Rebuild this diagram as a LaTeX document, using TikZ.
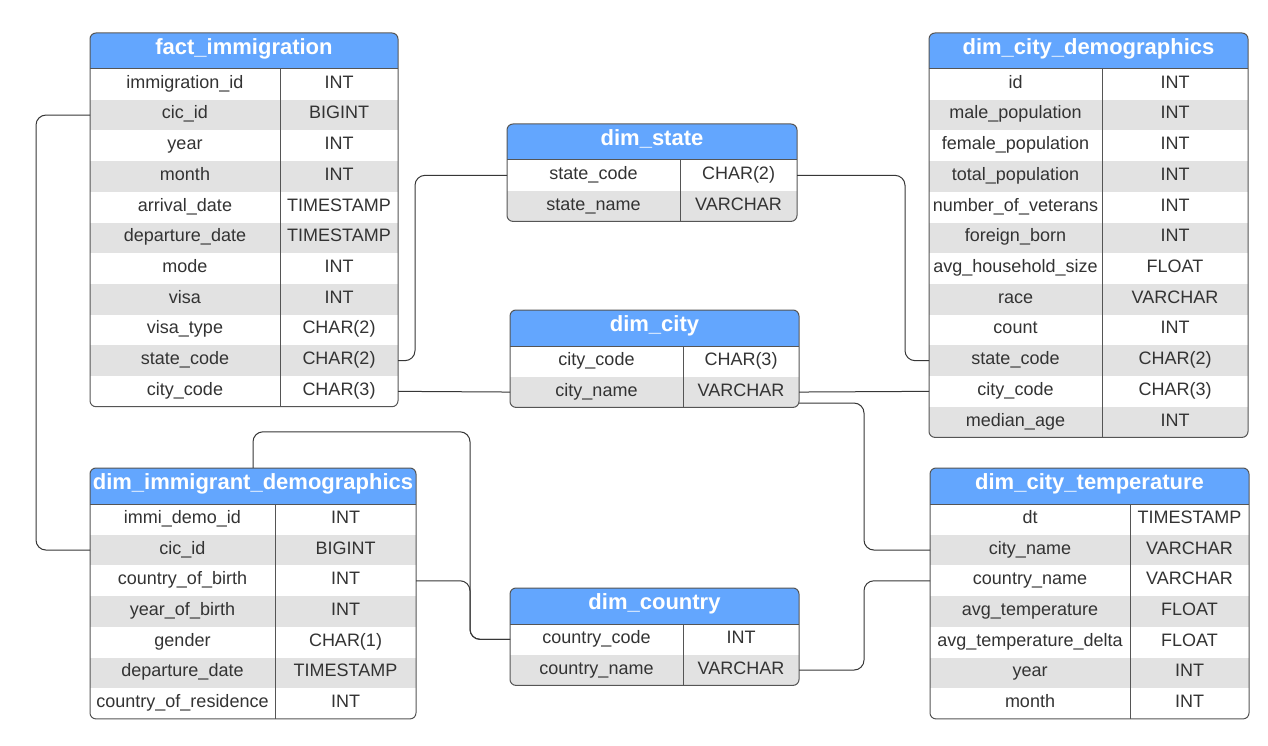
\documentclass[tikz,border=0pt]{standalone}
\usepackage{fontspec}
\setmainfont{Liberation Sans}
\usetikzlibrary{calc}
\definecolor{hdrblue}{RGB}{99,166,254}
\definecolor{rowgray}{RGB}{226,226,226}
\definecolor{edge}{RGB}{85,85,85}
\definecolor{ink}{RGB}{51,51,51}
\definecolor{wire}{RGB}{55,55,55}
\tikzset{
 celltext/.style={text=ink, font=\fontsize{18}{21}\selectfont, inner sep=0pt, text height=12.9pt, text depth=5pt},
 hdrtext/.style={text=white, font=\fontsize{22}{26}\selectfont\bfseries, inner sep=0pt, text height=15.8pt, text depth=8pt},
 rowbox/.style={inner sep=0pt, outer sep=0pt},
 tblborder/.style={draw=edge, line width=1pt},
 conn/.style={draw=wire, line width=1pt, rounded corners=10pt},
}
\newcommand\erTable[8]{%
 \pgfmathsetmacro\tblbot{#5+36+#6*30.7}%
 \begin{scope}
  \clip[rounded corners=6pt] (#2,#5) rectangle (#3,\tblbot);
  \fill[white] (#2,#5) rectangle (#3,\tblbot);
  \fill[hdrblue] (#2,#5) rectangle (#3,#5+36);
  \foreach \fname/\ftype [count=\i] in {#8} {
    \pgfmathsetmacro\ya{#5+36+(\i-1)*30.7}
    \pgfmathsetmacro\yb{\ya+30.7}
    \ifodd\i\else \fill[rowgray] (#2,\ya) rectangle (#3,\yb); \fi
  }
 \end{scope}
 \draw[tblborder, rounded corners=6pt] (#2,#5) rectangle (#3,\tblbot);
 \draw[tblborder] (#2,#5+36) -- (#3,#5+36);
 \draw[tblborder] (#4,#5+36) -- (#4,\tblbot);
 \node[hdrtext, minimum width={#3-#2}, minimum height=36] (#1) at ({(#2+#3)/2},{#5+18}) {#7};
 \foreach \fname/\ftype [count=\i] in {#8} {
   \pgfmathsetmacro\yc{#5+36+(\i-0.5)*30.7}
   \node[rowbox, minimum width={#3-#2}, minimum height=30.7] (#1-\i) at ({(#2+#3)/2},\yc) {};
   \node[celltext] (#1-\i-f) at ({(#2+#4)/2},\yc) {\fname};
   \node[celltext] (#1-\i-t) at ({(#4+#3)/2},\yc) {\ftype};
 }
}
\begin{document}
\begin{tikzpicture}[x=1pt,y=-1pt]
\useasboundingbox (0,0) rectangle (1268,746);
\fill[white] (0,0) rectangle (1268,746);

\erTable{fact}{90}{398}{280}{33}{11}{fact\_immigration}{immigration\_id/INT, cic\_id/BIGINT, year/INT, month/INT, arrival\_date/TIMESTAMP, departure\_date/TIMESTAMP, mode/INT, visa/INT, visa\_type/CHAR(2), state\_code/CHAR(2), city\_code/CHAR(3)}
\erTable{state}{507}{797}{680}{124}{2}{dim\_state}{state\_code/CHAR(2), state\_name/VARCHAR}
\erTable{demo}{929}{1248}{1102}{33}{12}{dim\_city\_demographics}{id/INT, male\_population/INT, female\_population/INT, total\_population/INT, number\_of\_veterans/INT, foreign\_born/INT, avg\_household\_size/FLOAT, race/VARCHAR, count/INT, state\_code/CHAR(2), city\_code/CHAR(3), median\_age/INT}
\erTable{city}{510}{799}{683}{310}{2}{dim\_city}{city\_code/CHAR(3), city\_name/VARCHAR}
\erTable{imm}{90}{416}{275}{468}{7}{dim\_immigrant\_demographics}{immi\_demo\_id/INT, cic\_id/BIGINT, country\_of\_birth/INT, year\_of\_birth/INT, gender/CHAR(1), departure\_date/TIMESTAMP, country\_of\_residence/INT}
\erTable{country}{510}{799}{683}{588}{2}{dim\_country}{country\_code/INT, country\_name/VARCHAR}
\erTable{temp}{930}{1249}{1130}{468}{7}{dim\_city\_temperature}{dt/TIMESTAMP, city\_name/VARCHAR, country\_name/VARCHAR, avg\_temperature/FLOAT, avg\_temperature\_delta/FLOAT, year/INT, month/INT}

\draw[conn] (fact-2.west) -- ++(-54,0) |- (imm-2.west);
\draw[conn] (fact-10.east) -- ++(17,0) |- (state-1.west);
\draw[conn] (state-1.east) -- ++(108,0) |- (demo-10.west);
\draw[conn] (fact-11.east) -- (city-2.west);
\draw[conn] (city-2.east) -- (demo-11.west);
\draw[conn] ($(city-2.east)+(0,11)$) -- ++(65,0) |- (temp-2.west);
\draw[conn] (imm.north) -- ++(0,-36) -| ($(country-1.west)+(-40,0)$) -- (country-1.west);
\draw[conn] (imm-3.east) -- ++(54,0) |- (country-1.west);
\draw[conn] (country-2.east) -- ++(65,0) |- (temp-3.west);
\end{tikzpicture}
\end{document}
